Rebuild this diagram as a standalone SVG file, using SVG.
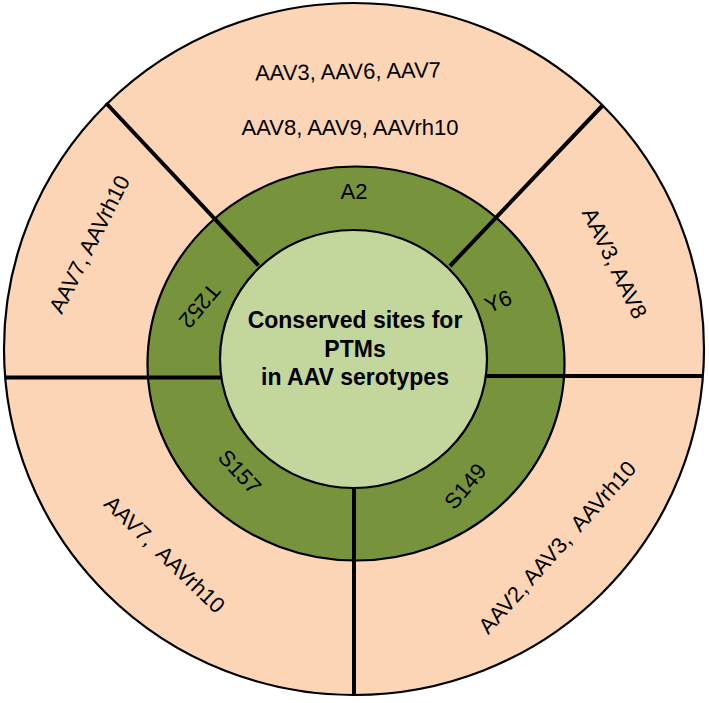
<svg xmlns="http://www.w3.org/2000/svg" width="709" height="703" viewBox="0 0 709 703">
<style>
.ring{stroke:#000;stroke-width:2.2}
.outer{fill:#FBD5B5}
.mid{fill:#77933C}
.core{fill:#C3D69B}
.div{stroke:#000;stroke-width:4;stroke-linecap:butt;fill:none}
.lbl{font-family:"Liberation Sans",Arial,sans-serif;font-size:22px;fill:#000;text-anchor:middle}
.title{font-family:"Liberation Sans",Arial,sans-serif;font-size:23px;font-weight:bold;fill:#000;text-anchor:middle}
</style>
<rect width="709" height="703" fill="#fff"/>
<g id="outer-ring"><ellipse class="ring outer" cx="354" cy="349" rx="350" ry="346"/></g>
<g id="site-ring"><ellipse class="ring mid" cx="356" cy="363.5" rx="208.5" ry="197"/></g>
<g id="center-node"><ellipse class="ring core" cx="353.5" cy="359" rx="133.5" ry="129"/>
<text class="title" x="355" y="328">Conserved sites for</text>
<text class="title" x="355" y="356.5">PTMs</text>
<text class="title" x="355" y="385">in AAV serotypes</text>
</g>
<g id="connectors">
<line class="div" x1="5" y1="377.5" x2="221" y2="377.5"/>
<line class="div" x1="486" y1="376" x2="703" y2="376"/>
<line class="div" x1="354" y1="488" x2="354" y2="695"/>
<line class="div" x1="106" y1="103" x2="258.5" y2="265.5"/>
<line class="div" x1="603" y1="105" x2="450" y2="266"/>
</g>
<g id="segment-A2">
<text class="lbl" x="354" y="199">A2</text>
<text class="lbl" transform="translate(348,71) rotate(-1)" y="8">AAV3, AAV6, AAV7</text>
<text class="lbl" x="350" y="135">AAV8, AAV9, AAVrh10</text>
</g>
<g id="segment-Y6">
<text class="lbl" transform="translate(498,301) rotate(-23)" y="8">Y6</text>
<text class="lbl" transform="translate(615,263) rotate(64)" y="8">AAV3, AAV8</text>
</g>
<g id="segment-S149">
<text class="lbl" transform="translate(465,486) rotate(-50)" y="8">S149</text>
<text class="lbl" transform="translate(557,547) rotate(-48)" y="8" xml:space="preserve">AAV2, AAV3,  AAVrh10</text>
</g>
<g id="segment-S157">
<text class="lbl" transform="translate(240,471.5) rotate(47)" y="8">S157</text>
<text class="lbl" transform="translate(165,554) rotate(44)" y="8" xml:space="preserve">AAV7,  AAVrh10</text>
</g>
<g id="segment-T252">
<text class="lbl" transform="translate(200,306) rotate(130)" y="8">T252</text>
<text class="lbl" transform="translate(89,244) rotate(-63)" y="8">AAV7, AAVrh10</text>
</g>
</svg>
